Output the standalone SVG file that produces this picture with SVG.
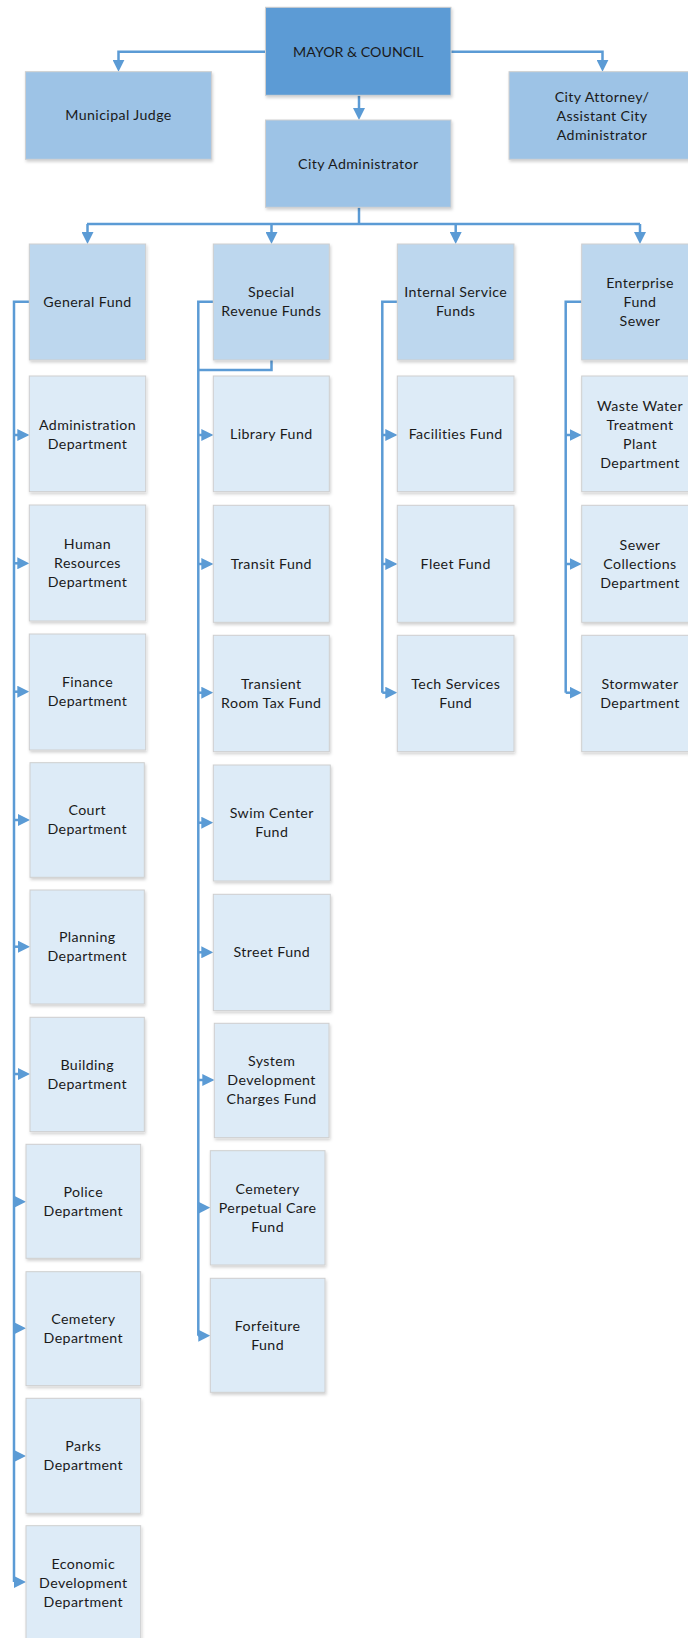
<svg xmlns="http://www.w3.org/2000/svg" width="688" height="1638" viewBox="0 0 688 1638">
<style>
.box{stroke:#CFCFCF;stroke-width:1;filter:url(#sh)}
.l1{fill:#5B9BD5}
.l2{fill:#9DC3E6}
.l3{fill:#BDD7EE}
.l4{fill:#DDEBF7}
text{font-family:Lato,"Liberation Sans",sans-serif;font-size:14.2px;letter-spacing:0.4px;fill:#1A1A1A;text-anchor:middle}
.caps{letter-spacing:0}
.c{fill:none;stroke:#5B9BD5;stroke-width:2.5}
.a{marker-end:url(#ah)}
</style>
<defs>
<filter id="sh" x="-10%" y="-10%" width="130%" height="130%">
<feDropShadow dx="1" dy="2" stdDeviation="1.5" flood-color="#000" flood-opacity="0.18"/>
</filter>
<marker id="ah" viewBox="0 0 10 10" refX="5" refY="5" markerWidth="12" markerHeight="12" markerUnits="userSpaceOnUse" orient="auto">
<path d="M0,0 L10,5 L0,10 z" fill="#5B9BD5"/>
</marker>
</defs>

<g id="connectors">
<path class="c a" d="M265.5,51.7 H118.5 V65.7"/>
<path class="c a" d="M451,51.7 H602.5 V65.7"/>
<path class="c a" d="M359,95.3 V114"/>
<path class="c" d="M359,207.3 V224 M87,224 H640"/>
<path class="c a" d="M87.5,224 V238"/>
<path class="c a" d="M271.5,224 V238"/>
<path class="c a" d="M455.7,224 V238"/>
<path class="c a" d="M640,224 V238"/>
<path class="c" d="M29.3,301.7 H14 V1582"/>
<path class="c a" d="M14,435 H23.3"/>
<path class="c a" d="M14,563.3 H23.3"/>
<path class="c a" d="M14,691.7 H23.3"/>
<path class="c a" d="M14,820 H24"/>
<path class="c a" d="M14,946.7 H24"/>
<path class="c a" d="M14,1074 H24"/>
<path class="c a" d="M14,1201.7 H20"/>
<path class="c a" d="M14,1328.3 H20"/>
<path class="c a" d="M14,1456 H20"/>
<path class="c a" d="M14,1582 H20"/>
<path class="c" d="M213.3,301.7 H198.3 V1335.7 M271.5,360 V370 H198.3"/>
<path class="c a" d="M198.3,435 H207.3"/>
<path class="c a" d="M198.3,564 H207.3"/>
<path class="c a" d="M198.3,692.7 H207.3"/>
<path class="c a" d="M198.3,822.7 H207.3"/>
<path class="c a" d="M198.3,952.3 H207.3"/>
<path class="c a" d="M198.3,1080 H208.3"/>
<path class="c a" d="M198.3,1207.7 H204.3"/>
<path class="c a" d="M198.3,1335.7 H204.3"/>
<path class="c" d="M397.3,301.7 H382.3 V692.7"/>
<path class="c a" d="M382.3,435 H391.3"/>
<path class="c a" d="M382.3,564 H391.3"/>
<path class="c a" d="M382.3,692.7 H391.3"/>
<path class="c" d="M581.7,301.7 H565.7 V692.7"/>
<path class="c a" d="M565.7,435 H575.7"/>
<path class="c a" d="M565.7,564 H575.7"/>
<path class="c a" d="M565.7,692.7 H575.7"/>
</g>

<g id="mayor"><rect class="box l1" x="265.5" y="7.3" width="185.5" height="88"/><text class="caps" x="358.3" y="56.5">MAYOR &amp; COUNCIL</text></g>
<g id="judge"><rect class="box l2" x="25.4" y="71.7" width="186" height="87.6"/><text x="118.5" y="120">Municipal Judge</text></g>
<g id="attorney"><rect class="box l2" x="509" y="71.7" width="186" height="87.6"/><text x="602" y="101.5">City Attorney/</text><text x="602" y="120.5">Assistant City</text><text x="602" y="139.5">Administrator</text></g>
<g id="cityadmin"><rect class="box l2" x="265.5" y="120" width="185.5" height="87.3"/><text x="358.3" y="168.5">City Administrator</text></g>

<g id="generalfund"><rect class="box l3" x="29.3" y="244" width="116.4" height="116"/><text x="87.5" y="306.8">General Fund</text></g>
<g id="specialrevenue"><rect class="box l3" x="213.3" y="244" width="116" height="116"/><text x="271.3" y="297.3">Special</text><text x="271.3" y="316.3">Revenue Funds</text></g>
<g id="internalservice"><rect class="box l3" x="397.3" y="244" width="116.7" height="116"/><text x="455.7" y="297.3">Internal Service</text><text x="455.7" y="316.3">Funds</text></g>
<g id="enterprise"><rect class="box l3" x="581.7" y="244" width="116.7" height="116"/><text x="640" y="287.8">Enterprise</text><text x="640" y="306.8">Fund</text><text x="640" y="325.8">Sewer</text></g>

<g id="administration"><rect class="box l4" x="29.3" y="376" width="116.4" height="115.7"/><text x="87.5" y="429.5">Administration</text><text x="87.5" y="448.5">Department</text></g>
<g id="hr"><rect class="box l4" x="29.3" y="505" width="116.4" height="116"/><text x="87.5" y="549">Human</text><text x="87.5" y="568">Resources</text><text x="87.5" y="587">Department</text></g>
<g id="finance"><rect class="box l4" x="29.3" y="634" width="116.4" height="116"/><text x="87.5" y="687">Finance</text><text x="87.5" y="706">Department</text></g>
<g id="court"><rect class="box l4" x="30" y="762.7" width="114.3" height="114.6"/><text x="87.2" y="815">Court</text><text x="87.2" y="834">Department</text></g>
<g id="planning"><rect class="box l4" x="30" y="890" width="114.3" height="114"/><text x="87.2" y="942">Planning</text><text x="87.2" y="961">Department</text></g>
<g id="building"><rect class="box l4" x="30" y="1017.3" width="114.3" height="114.4"/><text x="87.2" y="1069.5">Building</text><text x="87.2" y="1088.5">Department</text></g>
<g id="police"><rect class="box l4" x="26" y="1144.3" width="114.7" height="114"/><text x="83.3" y="1196.5">Police</text><text x="83.3" y="1215.5">Department</text></g>
<g id="cemetery"><rect class="box l4" x="26" y="1271.7" width="114.7" height="114"/><text x="83.3" y="1324">Cemetery</text><text x="83.3" y="1343">Department</text></g>
<g id="parks"><rect class="box l4" x="26" y="1398.3" width="114.7" height="115"/><text x="83.3" y="1451">Parks</text><text x="83.3" y="1470">Department</text></g>
<g id="economic"><rect class="box l4" x="26" y="1525.7" width="114.7" height="120"/><text x="83.3" y="1569">Economic</text><text x="83.3" y="1588">Development</text><text x="83.3" y="1607">Department</text></g>

<g id="library"><rect class="box l4" x="213.3" y="376" width="116" height="115.7"/><text x="271.3" y="439">Library Fund</text></g>
<g id="transit"><rect class="box l4" x="213.3" y="505.3" width="116" height="117"/><text x="271.3" y="568.5">Transit Fund</text></g>
<g id="transient"><rect class="box l4" x="213.3" y="635.3" width="116" height="116.4"/><text x="271.3" y="688.5">Transient</text><text x="271.3" y="707.5">Room Tax Fund</text></g>
<g id="swim"><rect class="box l4" x="213.3" y="765" width="117" height="116"/><text x="271.8" y="818">Swim Center</text><text x="271.8" y="837">Fund</text></g>
<g id="street"><rect class="box l4" x="213.3" y="894.3" width="117" height="116.4"/><text x="271.8" y="957">Street Fund</text></g>
<g id="sdc"><rect class="box l4" x="214.3" y="1023.3" width="114.7" height="114.4"/><text x="271.6" y="1066">System</text><text x="271.6" y="1085">Development</text><text x="271.6" y="1104">Charges Fund</text></g>
<g id="cemeteryperpetual"><rect class="box l4" x="210.3" y="1150.7" width="114.7" height="114.3"/><text x="267.6" y="1193.5">Cemetery</text><text x="267.6" y="1212.5">Perpetual Care</text><text x="267.6" y="1231.5">Fund</text></g>
<g id="forfeiture"><rect class="box l4" x="210.3" y="1278.3" width="114.7" height="114"/><text x="267.6" y="1330.5">Forfeiture</text><text x="267.6" y="1349.5">Fund</text></g>

<g id="facilities"><rect class="box l4" x="397.3" y="376" width="116.7" height="115.7"/><text x="455.7" y="439">Facilities Fund</text></g>
<g id="fleet"><rect class="box l4" x="397.3" y="505.3" width="116.7" height="117"/><text x="455.7" y="568.5">Fleet Fund</text></g>
<g id="techservices"><rect class="box l4" x="397.3" y="635.3" width="116.7" height="116.4"/><text x="455.7" y="688.5">Tech Services</text><text x="455.7" y="707.5">Fund</text></g>

<g id="wastewater"><rect class="box l4" x="581.7" y="376" width="116.7" height="115.7"/><text x="640" y="410.5">Waste Water</text><text x="640" y="429.5">Treatment</text><text x="640" y="448.5">Plant</text><text x="640" y="467.5">Department</text></g>
<g id="sewercollections"><rect class="box l4" x="581.7" y="505.3" width="116.7" height="117"/><text x="640" y="549.5">Sewer</text><text x="640" y="568.5">Collections</text><text x="640" y="587.5">Department</text></g>
<g id="stormwater"><rect class="box l4" x="581.7" y="635.3" width="116.7" height="116.4"/><text x="640" y="688.5">Stormwater</text><text x="640" y="707.5">Department</text></g>
</svg>
